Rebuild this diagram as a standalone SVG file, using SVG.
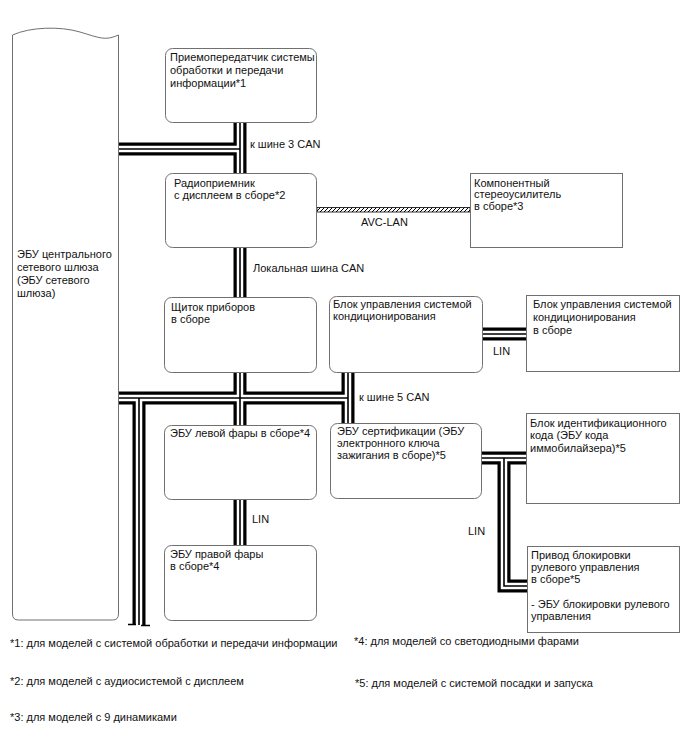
<svg xmlns="http://www.w3.org/2000/svg" width="688" height="755" viewBox="0 0 688 755">
<style>
  .box{fill:#fff;stroke:#707070;stroke-width:1}
  .t{font-family:"Liberation Sans",Arial,sans-serif;font-size:11px;fill:#111}
  .fn{font-family:"Liberation Sans",Arial,sans-serif;font-size:11px;fill:#111}
  .bo{fill:none;stroke:#000;stroke-width:13}
  .bi{fill:none;stroke:#fff;stroke-width:6.5}
  .bc{fill:none;stroke:#000;stroke-width:1.6}
</style>
<defs>
  <pattern id="hatch" patternUnits="userSpaceOnUse" width="4" height="4">
    <rect width="4" height="4" fill="#fff"/>
    <path d="M-1,5 L5,-1 M-1,1 L1,-1 M3,5 L5,3" stroke="#000" stroke-width="1"/>
  </pattern>
  <path id="b1" d="M118,149 H240 M240,123 V173"/>
  <path id="b2" d="M240,248 V297"/>
  <path id="b3" d="M118,398 H348 M240,373 V425 M348,373 V423 M139,398 V625"/>
  <path id="b4" d="M482,334 H527"/>
  <path id="b5" d="M240,499 V545"/>
  <path id="b6" d="M482,458 H526 M504,458 V586 H527"/>
</defs>
<rect width="688" height="755" fill="#fff"/>

<g id="connectors">
  <g class="bo"><use href="#b1"/><use href="#b2"/><use href="#b3"/><use href="#b4"/><use href="#b5"/><use href="#b6"/></g>
  <g class="bi"><use href="#b1"/><use href="#b2"/><use href="#b3"/><use href="#b4"/><use href="#b5"/><use href="#b6"/></g>
  <g class="bc"><use href="#b1"/><use href="#b2"/><use href="#b3"/><use href="#b4"/><use href="#b5"/><use href="#b6"/></g>
  <path d="M128,624.5 H136 M141,625.5 H150" stroke="#000" stroke-width="1.5" fill="none"/>
  <rect x="317" y="207.5" width="153" height="4.5" fill="url(#hatch)" stroke="#000" stroke-width="0.8"/>
  <text class="t" x="361" y="226">AVC-LAN</text>
  <text class="t" x="250" y="148">к шине 3 CAN</text>
  <text class="t" x="253" y="272">Локальная шина CAN</text>
  <text class="t" x="359" y="401">к шине 5 CAN</text>
  <text class="t" x="493" y="355">LIN</text>
  <text class="t" x="252" y="523">LIN</text>
  <text class="t" x="468" y="535">LIN</text>
</g>

<g id="gateway">
  <path class="box" d="M12.5,35 C30,27 60,26 80,32 S105,41 118.5,35 V614 Q118.5,620 112.5,620 H18.5 Q12.5,620 12.5,614 Z"/>
  <text class="t" x="17" y="258">ЭБУ центрального</text>
  <text class="t" x="17" y="271">сетевого шлюза</text>
  <text class="t" x="17" y="284">(ЭБУ сетевого</text>
  <text class="t" x="17" y="297">шлюза)</text>
</g>

<g id="transceiver">
  <rect class="box" x="165.5" y="48.5" width="151" height="74" rx="7"/>
  <text class="t" x="170" y="61">Приемопередатчик системы</text>
  <text class="t" x="170" y="74">обработки и передачи</text>
  <text class="t" x="170" y="87">информации*1</text>
</g>

<g id="radio">
  <rect class="box" x="165.5" y="173.5" width="151" height="74" rx="7"/>
  <text class="t" x="174" y="187">Радиоприемник</text>
  <text class="t" x="174" y="199">с дисплеем в сборе*2</text>
</g>

<g id="amplifier">
  <rect class="box" x="470.5" y="173.5" width="152" height="74"/>
  <text class="t" x="474" y="187">Компонентный</text>
  <text class="t" x="474" y="198">стереоусилитель</text>
  <text class="t" x="474" y="210">в сборе*3</text>
</g>

<g id="meter">
  <rect class="box" x="164.5" y="297.5" width="152" height="75" rx="7"/>
  <text class="t" x="171" y="311">Щиток приборов</text>
  <text class="t" x="171" y="323">в сборе</text>
</g>

<g id="ac-control">
  <rect class="box" x="329.5" y="296.5" width="153" height="76" rx="7"/>
  <text class="t" x="333" y="308">Блок управления системой</text>
  <text class="t" x="333" y="320">кондиционирования</text>
</g>

<g id="ac-amplifier">
  <rect class="box" x="526.5" y="295.5" width="153" height="76"/>
  <text class="t" x="533" y="308">Блок управления системой</text>
  <text class="t" x="533" y="321">кондиционирования</text>
  <text class="t" x="533" y="334">в сборе</text>
</g>

<g id="left-headlamp">
  <rect class="box" x="164.5" y="425.5" width="152" height="74" rx="7"/>
  <text class="t" x="170" y="437">ЭБУ левой фары в сборе*4</text>
</g>

<g id="certification">
  <rect class="box" x="330.5" y="423.5" width="151" height="75" rx="7"/>
  <text class="t" x="337" y="435">ЭБУ сертификации (ЭБУ</text>
  <text class="t" x="337" y="447">электронного ключа</text>
  <text class="t" x="337" y="459">зажигания в сборе)*5</text>
</g>

<g id="immobiliser">
  <rect class="box" x="526.5" y="413.5" width="153" height="90"/>
  <text class="t" x="530" y="427">Блок идентификационного</text>
  <text class="t" x="530" y="439">кода (ЭБУ кода</text>
  <text class="t" x="530" y="452">иммобилайзера)*5</text>
</g>

<g id="steering-lock">
  <rect class="box" x="527.5" y="546.5" width="152" height="86"/>
  <text class="t" x="531" y="559">Привод блокировки</text>
  <text class="t" x="531" y="571">рулевого управления</text>
  <text class="t" x="531" y="583">в сборе*5</text>
  <text class="t" x="531" y="608">- ЭБУ блокировки рулевого</text>
  <text class="t" x="531" y="620">управления</text>
</g>

<g id="right-headlamp">
  <rect class="box" x="164.5" y="545.5" width="152" height="75" rx="7"/>
  <text class="t" x="170" y="558">ЭБУ правой фары</text>
  <text class="t" x="170" y="570">в сборе*4</text>
</g>

<g id="footnotes">
  <text class="fn" x="10" y="647">*1: для моделей с системой обработки и передачи информации</text>
  <text class="fn" x="10" y="685">*2: для моделей с аудиосистемой с дисплеем</text>
  <text class="fn" x="10" y="721">*3: для моделей с 9 динамиками</text>
  <text class="fn" x="354" y="645">*4: для моделей со светодиодными фарами</text>
  <text class="fn" x="355" y="687">*5: для моделей с системой посадки и запуска</text>
</g>
</svg>
